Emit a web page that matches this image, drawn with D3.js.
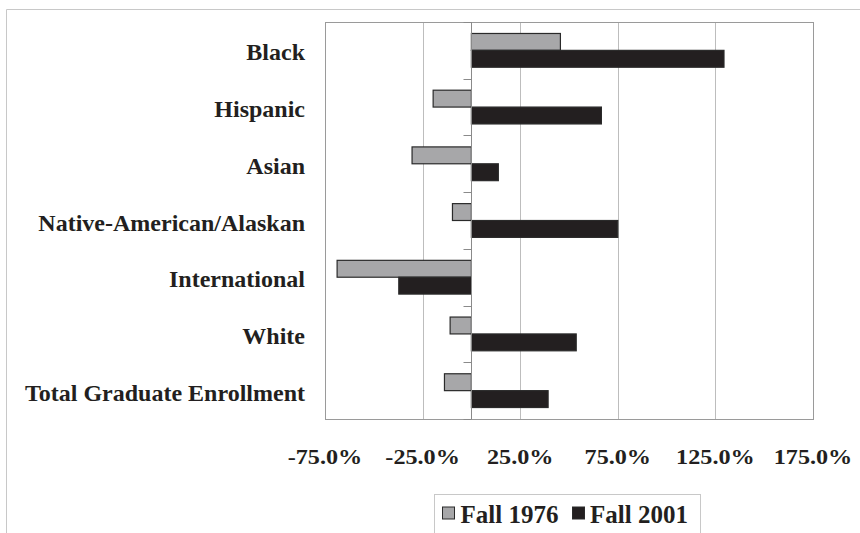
<!DOCTYPE html>
<html>
<head>
<meta charset="utf-8">
<script src="https://cdn.jsdelivr.net/npm/d3@7"></script>
<style>
  html, body { margin: 0; padding: 0; background: #fff; }
  svg { display: block; }
  text { font-family: "Liberation Serif", "Times New Roman", serif; font-weight: bold; fill: #231f20; }
</style>
</head>
<body>
<svg id="chart" width="860" height="533"></svg>
<script>
// Percentage change in graduate enrollment by group
const categories = [
  "Black",
  "Hispanic",
  "Asian",
  "Native-American/Alaskan",
  "International",
  "White",
  "Total Graduate Enrollment"
];
const seriesNames = ["Fall 1976", "Fall 2001"];
const fall1976 = [45.6, -19.6, -30.4, -9.7, -68.8, -10.9, -13.8];
const fall2001 = [129.4, 66.6, 13.8, 75.0, -37.2, 53.7, 39.3];
const tickValues = [-75, -25, 25, 75, 125, 175];
const seriesColors = ["#a7a7a9", "#231f20"];

const svg = d3.select("#chart");

const plot = { left: 325, right: 813, top: 22, bottom: 419 };

// Outer chart frame (runs off the right and bottom edges)
svg.append("path")
  .attr("d", "M6.5,540 V9.5 H870")
  .attr("fill", "none")
  .attr("stroke", "#c8c8c8")
  .attr("stroke-width", 1);

const x = d3.scaleLinear().domain([-75, 175]).range([plot.left, plot.right]);
const y0 = d3.scaleBand().domain(categories).range([plot.top, plot.bottom]);
const y1 = d3.scaleBand().domain(seriesNames).range([0, y0.bandwidth()])
  .paddingInner(0).paddingOuter(0.68);

// Vertical gridlines
svg.append("g")
  .selectAll("line")
  .data(tickValues)
  .join("line")
  .attr("x1", d => Math.round(x(d)) + 0.5)
  .attr("x2", d => Math.round(x(d)) + 0.5)
  .attr("y1", plot.top)
  .attr("y2", plot.bottom)
  .attr("stroke", "#bdbdbd")
  .attr("stroke-width", 1);

// Plot area border
svg.append("rect")
  .attr("x", plot.left + 0.5)
  .attr("y", plot.top + 0.5)
  .attr("width", plot.right - plot.left)
  .attr("height", plot.bottom - plot.top)
  .attr("fill", "none")
  .attr("stroke", "#9a9a9a")
  .attr("stroke-width", 1);

// Bars
const rows = categories.map((c, i) => ({ category: c, values: [fall1976[i], fall2001[i]] }));
const groups = svg.append("g")
  .selectAll("g")
  .data(rows)
  .join("g")
  .attr("transform", d => `translate(0,${y0(d.category)})`);

groups.selectAll("rect")
  .data(d => d.values.map((v, j) => ({ series: seriesNames[j], value: v, color: seriesColors[j] })))
  .join("rect")
  .attr("x", d => x(Math.min(0, d.value)))
  .attr("width", d => Math.abs(x(d.value) - x(0)))
  .attr("y", d => y1(d.series))
  .attr("height", y1.bandwidth())
  .attr("fill", d => d.color)
  .attr("stroke", "#2a2a2a")
  .attr("stroke-width", 1.2);

// Category axis at zero with tick marks between categories
const zx = Math.round(x(0)) + 0.5;
svg.append("line")
  .attr("x1", zx).attr("x2", zx)
  .attr("y1", plot.top).attr("y2", plot.bottom)
  .attr("stroke", "#8a8a8a").attr("stroke-width", 1);

const boundaries = categories.map(c => y0(c)).concat([plot.bottom]);
svg.append("g")
  .selectAll("line")
  .data(boundaries)
  .join("line")
  .attr("x1", zx - 8).attr("x2", zx)
  .attr("y1", d => Math.round(d) + 0.5)
  .attr("y2", d => Math.round(d) + 0.5)
  .attr("stroke", "#8a8a8a").attr("stroke-width", 1);

// Category labels
svg.append("g")
  .selectAll("text")
  .data(categories)
  .join("text")
  .attr("x", 305)
  .attr("y", d => y0(d) + y0.bandwidth() / 2 + 10)
  .attr("text-anchor", "end")
  .attr("font-size", 24)
  .text(d => d);

// Value axis tick labels (plain hyphen for negatives)
const fmt = d3.format(".1f");
svg.append("g")
  .selectAll("text")
  .data(tickValues)
  .join("text")
  .attr("transform", d => `translate(${x(d)},464) scale(1.18,1)`)
  .attr("text-anchor", "middle")
  .attr("font-size", 20.5)
  .text(d => fmt(d).replace("\u2212", "-") + "%");

// Legend
const legend = svg.append("g");
legend.append("rect")
  .attr("x", 434.5).attr("y", 494.5)
  .attr("width", 266).attr("height", 60)
  .attr("fill", "#fff")
  .attr("stroke", "#c8c8c8").attr("stroke-width", 1);

const legendItems = [
  { name: seriesNames[0], color: seriesColors[0], sx: 442.5, tx: 460.5 },
  { name: seriesNames[1], color: seriesColors[1], sx: 572.5, tx: 590 }
];
legend.selectAll("rect.key")
  .data(legendItems)
  .join("rect")
  .attr("class", "key")
  .attr("x", d => d.sx).attr("y", 507)
  .attr("width", 12).attr("height", 12)
  .attr("fill", d => d.color)
  .attr("stroke", "#2a2a2a").attr("stroke-width", 1);
legend.selectAll("text")
  .data(legendItems)
  .join("text")
  .attr("x", d => d.tx).attr("y", 523)
  .attr("font-size", 25)
  .text(d => d.name);
</script>
</body>
</html>
